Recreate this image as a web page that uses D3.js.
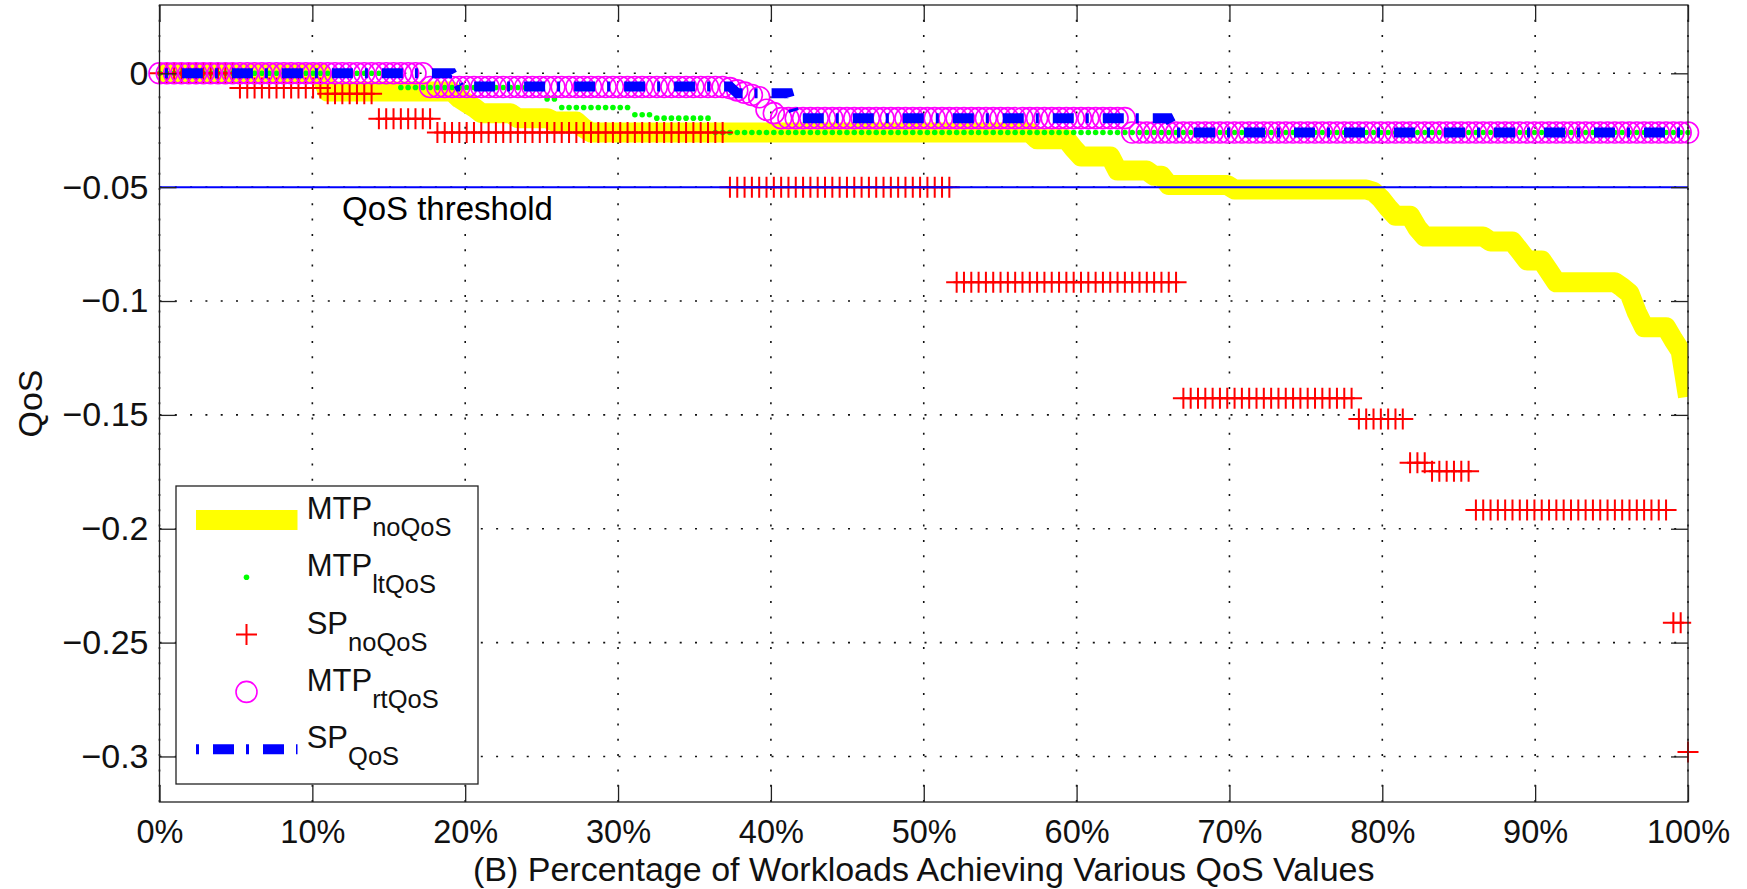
<!DOCTYPE html>
<html>
<head>
<meta charset="utf-8">
<script src="https://cdn.jsdelivr.net/npm/d3@7"></script>
<style>
  html, body { margin: 0; padding: 0; background: #fff; }
  svg { display: block; font-family: "Liberation Sans", Arial, Helvetica, sans-serif; }
</style>
</head>
<body>
<svg id="chart" width="1747" height="889"></svg>
<script>
// ---- axis ticks ----
const xTicks = [0, 10, 20, 30, 40, 50, 60, 70, 80, 90, 100];
const xTickLabels = ["0%", "10%", "20%", "30%", "40%", "50%", "60%", "70%", "80%", "90%", "100%"];
const yTicks = [0, -0.05, -0.1, -0.15, -0.2, -0.25, -0.3];
const yTickLabels = ["0", "\u22120.05", "\u22120.1", "\u22120.15", "\u22120.2", "\u22120.25", "\u22120.3"];
const qosThreshold = -0.05;

// ---- sorted per-workload QoS, stored as runs: value and how many workloads share it ----
const mtpNoQoSValues = [0, -0.008, -0.011, -0.013, -0.015, -0.0175, -0.0197, -0.0212, -0.024, -0.026,
  -0.029, -0.033, -0.0365, -0.0427, -0.045, -0.049, -0.051, -0.052, -0.055, -0.059,
  -0.0625, -0.068, -0.0717, -0.0739, -0.078, -0.0822, -0.087, -0.0918, -0.094, -0.0966,
  -0.105, -0.1115, -0.117, -0.122, -0.142];
const mtpNoQoSCounts = [23, 18, 1, 1, 1, 5, 5, 4, 1, 61,
  5, 1, 5, 5, 2, 9, 19, 1, 1, 1,
  3, 1, 9, 4, 1, 3, 1, 9, 1, 1,
  1, 4, 1, 1, 1];

const mtpLtQoSValues = [0, -0.0062, -0.0113, -0.015, -0.0182, -0.0197, -0.026];
const mtpLtQoSCounts = [33, 20, 2, 10, 3, 8, 134];

const spNoQoSValues = [0, -0.0065, -0.009, -0.020, -0.026, -0.050, -0.0917, -0.1427, -0.1518, -0.171, -0.1747, -0.1918, -0.2413, -0.298];
const spNoQoSCounts = [11, 12, 7, 8, 40, 31, 31, 24, 7, 3, 6, 27, 2, 1];

const mtpRtQoSValues = [0, -0.006, -0.0065, -0.0075, -0.0085, -0.0095, -0.0105, -0.016, -0.0175, -0.0197, -0.026];
const mtpRtQoSCounts = [37, 41, 1, 1, 1, 1, 1, 1, 1, 48, 77];

const spQoSValues = [0, -0.0058, -0.0087, -0.0197, -0.026];
const spQoSCounts = [41, 38, 8, 52, 71];

const legendNames = ["MTP", "MTP", "SP", "MTP", "SP"];
const legendSubs = ["noQoS", "ltQoS", "noQoS", "rtQoS", "QoS"];

// ---- helpers ----
function expandRuns(values, counts) {
  const out = [];
  values.forEach((v, i) => { for (let k = 0; k < counts[i]; k++) out.push(v); });
  return out;
}
// each workload is placed at its rank as a percentage of all workloads
function toPoints(vals) {
  return vals.map((v, i) => ({ p: i / (vals.length - 1) * 100, v }));
}

const mtpNoQoS = toPoints(expandRuns(mtpNoQoSValues, mtpNoQoSCounts));
const mtpLtQoS = toPoints(expandRuns(mtpLtQoSValues, mtpLtQoSCounts));
const spNoQoS  = toPoints(expandRuns(spNoQoSValues, spNoQoSCounts));
const mtpRtQoS = toPoints(expandRuns(mtpRtQoSValues, mtpRtQoSCounts));
const spQoS    = toPoints(expandRuns(spQoSValues, spQoSCounts));

// ---- layout ----
const plot = { left: 159.5, right: 1688, top: 5, bottom: 802 };
const x = d3.scaleLinear().domain([0, 100]).range([plot.left, plot.right]);
const y = d3.scaleLinear().domain([-0.32, 0.03]).range([plot.bottom, plot.top]);

const svg = d3.select("#chart");
const FONT = "\"Liberation Sans\", Arial, Helvetica, sans-serif";

svg.append("rect").attr("width", 1747).attr("height", 889).attr("fill", "#fff");

svg.append("defs").append("clipPath").attr("id", "plotClip")
  .append("rect")
  .attr("x", plot.left).attr("y", plot.top)
  .attr("width", plot.right - plot.left).attr("height", plot.bottom - plot.top);

// ---- dotted grid ----
const grid = svg.append("g").attr("stroke", "#111").attr("stroke-width", 1.6)
  .attr("stroke-dasharray", "2,13.3");
grid.selectAll("line.vx").data(xTicks).join("line").attr("class", "vx")
  .attr("x1", d => x(d)).attr("x2", d => x(d))
  .attr("y1", plot.bottom).attr("y2", plot.top);
grid.selectAll("line.hy").data(yTicks).join("line").attr("class", "hy")
  .attr("x1", plot.left).attr("x2", plot.right)
  .attr("y1", d => y(d)).attr("y2", d => y(d));

// ---- series ----
const line = d3.line().x(d => x(d.p)).y(d => y(d.v));

// MTP noQoS: thick yellow line
svg.append("path").datum(mtpNoQoS)
  .attr("clip-path", "url(#plotClip)")
  .attr("d", line)
  .attr("fill", "none").attr("stroke", "#ffff00")
  .attr("stroke-width", 20).attr("stroke-linejoin", "round");

// MTP ltQoS: green dots
svg.append("g").selectAll("circle").data(mtpLtQoS).join("circle")
  .attr("cx", d => x(d.p)).attr("cy", d => y(d.v)).attr("r", 2.8)
  .attr("fill", "#00ff00");

// SP noQoS: red plus markers
const plusArm = 10.5;
svg.append("g").selectAll("path").data(spNoQoS).join("path")
  .attr("d", d => {
    const cx = x(d.p), cy = y(d.v);
    return `M${cx - plusArm},${cy}H${cx + plusArm}M${cx},${cy - plusArm}V${cy + plusArm}`;
  })
  .attr("fill", "none").attr("stroke", "#ff0000").attr("stroke-width", 2);

// MTP rtQoS: open magenta circles
svg.append("g").selectAll("circle").data(mtpRtQoS).join("circle")
  .attr("cx", d => x(d.p)).attr("cy", d => y(d.v)).attr("r", 10.5)
  .attr("fill", "none").attr("stroke", "#ff00ff").attr("stroke-width", 1.6);

// SP QoS: thick blue dash-dot line
svg.append("path").datum(spQoS)
  .attr("clip-path", "url(#plotClip)")
  .attr("d", line)
  .attr("fill", "none").attr("stroke", "#0000ff")
  .attr("stroke-width", 10)
  .attr("stroke-dasharray", "21,12,3,14").attr("stroke-dashoffset", 27.6);

// QoS threshold line and note
svg.append("line")
  .attr("x1", x(0)).attr("x2", x(100))
  .attr("y1", y(qosThreshold)).attr("y2", y(qosThreshold))
  .attr("stroke", "#0000ff").attr("stroke-width", 2);
svg.append("text")
  .attr("x", 342).attr("y", y(qosThreshold) + 33)
  .attr("font-size", 33).attr("font-family", FONT).attr("fill", "#000")
  .text("QoS threshold");

// ---- axes (ticks point inward on all four sides) ----
const tickLen = 17;
const axB = svg.append("g").attr("transform", `translate(0,${plot.bottom})`)
  .call(d3.axisBottom(x).tickValues(xTicks).tickFormat((d, i) => xTickLabels[i])
    .tickSize(-tickLen).tickPadding(18));
const axL = svg.append("g").attr("transform", `translate(${plot.left},0)`)
  .call(d3.axisLeft(y).tickValues(yTicks).tickFormat((d, i) => yTickLabels[i])
    .tickSize(-tickLen).tickPadding(11));
const axT = svg.append("g").attr("transform", `translate(0,${plot.top})`)
  .call(d3.axisTop(x).tickValues(xTicks).tickFormat("").tickSize(-tickLen));
const axR = svg.append("g").attr("transform", `translate(${plot.right},0)`)
  .call(d3.axisRight(y).tickValues(yTicks).tickFormat("").tickSize(-tickLen));

[axB, axL, axT, axR].forEach(g => {
  g.select(".domain").remove();
  g.selectAll(".tick line").attr("stroke", "#222").attr("stroke-width", 1.3);
  g.selectAll("text").attr("font-size", 34).attr("font-family", FONT).attr("fill", "#111");
  g.attr("font-family", FONT);
});
axB.selectAll("text").attr("font-size", 32.5);

svg.append("rect")
  .attr("x", plot.left).attr("y", plot.top)
  .attr("width", plot.right - plot.left).attr("height", plot.bottom - plot.top)
  .attr("fill", "none").attr("stroke", "#222").attr("stroke-width", 1.3);

// axis titles
svg.append("text")
  .attr("x", (plot.left + plot.right) / 2).attr("y", 881)
  .attr("text-anchor", "middle").attr("font-size", 34).attr("font-family", FONT).attr("fill", "#111")
  .text("(B) Percentage of Workloads Achieving Various QoS Values");
svg.append("text")
  .attr("transform", `translate(42,${(plot.top + plot.bottom) / 2}) rotate(-90)`)
  .attr("text-anchor", "middle").attr("font-size", 34).attr("font-family", FONT).attr("fill", "#111")
  .text("QoS");

// ---- legend ----
const legend = svg.append("g");
legend.append("rect")
  .attr("x", 176).attr("y", 486).attr("width", 302).attr("height", 298)
  .attr("fill", "#fff").attr("stroke", "#222").attr("stroke-width", 1.3);

const legendY = d3.range(legendNames.length).map(i => 520 + i * 57.3);
const symX = 246.5, lineX0 = 196, lineX1 = 297.5;

legend.append("line")
  .attr("x1", lineX0).attr("x2", lineX1).attr("y1", legendY[0]).attr("y2", legendY[0])
  .attr("stroke", "#ffff00").attr("stroke-width", 20);
legend.append("circle")
  .attr("cx", symX).attr("cy", legendY[1]).attr("r", 2.8).attr("fill", "#00ff00");
legend.append("path")
  .attr("d", `M${symX - plusArm},${legendY[2]}H${symX + plusArm}M${symX},${legendY[2] - plusArm}V${legendY[2] + plusArm}`)
  .attr("stroke", "#ff0000").attr("stroke-width", 2).attr("fill", "none");
legend.append("circle")
  .attr("cx", symX).attr("cy", legendY[3]).attr("r", 10.5)
  .attr("fill", "none").attr("stroke", "#ff00ff").attr("stroke-width", 1.6);
legend.append("line")
  .attr("x1", lineX0).attr("x2", lineX1).attr("y1", legendY[4]).attr("y2", legendY[4])
  .attr("stroke", "#0000ff").attr("stroke-width", 10)
  .attr("stroke-dasharray", "21,12,3,14").attr("stroke-dashoffset", 33);

legendNames.forEach((name, i) => {
  const t = legend.append("text")
    .attr("x", 306.7).attr("y", legendY[i] - 1)
    .attr("font-family", FONT).attr("fill", "#111");
  t.append("tspan").attr("font-size", 31).text(name);
  t.append("tspan").attr("font-size", 25.5).attr("dy", 17).text(legendSubs[i]);
});
</script>
</body>
</html>
